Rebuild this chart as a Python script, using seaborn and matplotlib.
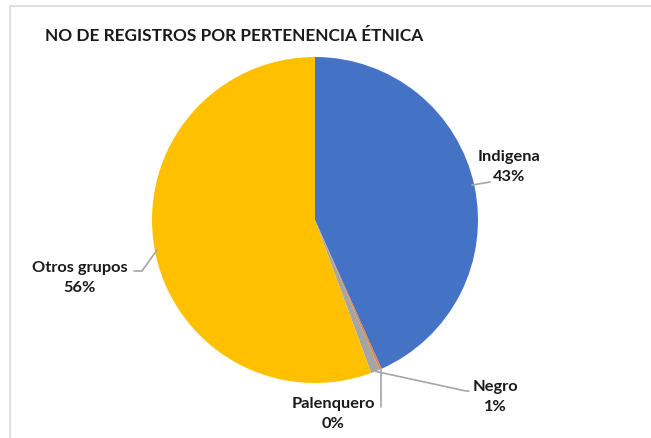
import numpy as np
import matplotlib
matplotlib.use("Agg")
import matplotlib.pyplot as plt
import seaborn as sns
from matplotlib.lines import Line2D

# ---- data ----
categories = ["Indigena", "Palenquero", "Negro", "Otros grupos"]
values = [43.3, 0.2, 0.9, 55.6]
colors = ["#4472C4", "#ED7D31", "#A5A5A5", "#FFC000"]
title = "NO DE REGISTROS POR PERTENENCIA ÉTNICA"

sns.set_theme(style="white")
plt.rcParams["font.family"] = ["Lato", "DejaVu Sans"]

W, H = 651, 438
fig = plt.figure(figsize=(W / 100, H / 100), dpi=100)
fig.patch.set_facecolor("white")

# pixel layout of pie
cx, cy, R = 315, 220, 163
ax = fig.add_axes([0, 0, 1, 1])

def px(x, y):
    return ((x - cx) / R, (cy - y) / R)

wedges, _ = ax.pie(values, colors=colors, startangle=90, counterclock=False,
                   radius=1.0, wedgeprops=dict(linewidth=0))
ax.set_xlim(-cx / R, (W - cx) / R)
ax.set_ylim(-(H - cy) / R, cy / R)
ax.axis("off")

total = sum(values)
pct = [f"{round(v / total * 100):.0f}%" for v in values]

# label positions (pixel layout)
label_pos = {
    "Indigena": (509, 167),
    "Negro": (495, 397),
    "Palenquero": (333, 414),
    "Otros grupos": (80, 278),
}
txt_kw = dict(ha="center", va="center", fontsize=11.8, fontweight="bold",
              color="#1a1a1a", linespacing=1.5)
for cat, p in zip(categories, pct):
    x, y = px(*label_pos[cat])
    ax.text(x, y, f"{cat}\n{p}", **txt_kw)

def mid_point(w, r=1.0):
    ang = np.deg2rad((w.theta1 + w.theta2) / 2)
    return r * np.cos(ang), r * np.sin(ang)

lc = "#A6A6A6"
# Indigena leader
x0, y0 = px(472, 185)
ax.plot([x0, px(490, 182)[0]], [y0, px(490, 182)[1]], color=lc, lw=1.2)
# Negro leader
x0, y0 = mid_point(wedges[2])
ax.plot([x0, px(466, 391)[0], px(469, 391)[0]],
        [y0, px(466, 391)[1], px(469, 391)[1]], color=lc, lw=1.2)
# Palenquero leader
x0, y0 = mid_point(wedges[1])
ax.plot([x0, x0], [y0, px(0, 407)[1]], color=lc, lw=1.2)
# Otros grupos leader
x0, y0 = px(157, 250)
ax.plot([x0, px(142, 271)[0], px(134, 271)[0]],
        [y0, px(142, 271)[1], px(134, 271)[1]], color=lc, lw=1.2)

fig.text(45 / W, 1 - 36 / H, title, ha="left", va="center", fontsize=12.4,
         fontweight="bold", color="#1a1a1a")

# chart frame (left and top edges visible)
fig.add_artist(Line2D([9.5 / W, 9.5 / W], [0, 1 - 6 / H], color="#D9D9D9", lw=1.2,
                      transform=fig.transFigure))
fig.add_artist(Line2D([9.5 / W, 1], [1 - 6 / H, 1 - 6 / H], color="#D9D9D9", lw=1.2,
                      transform=fig.transFigure))

fig.savefig("out.png", dpi=100)
